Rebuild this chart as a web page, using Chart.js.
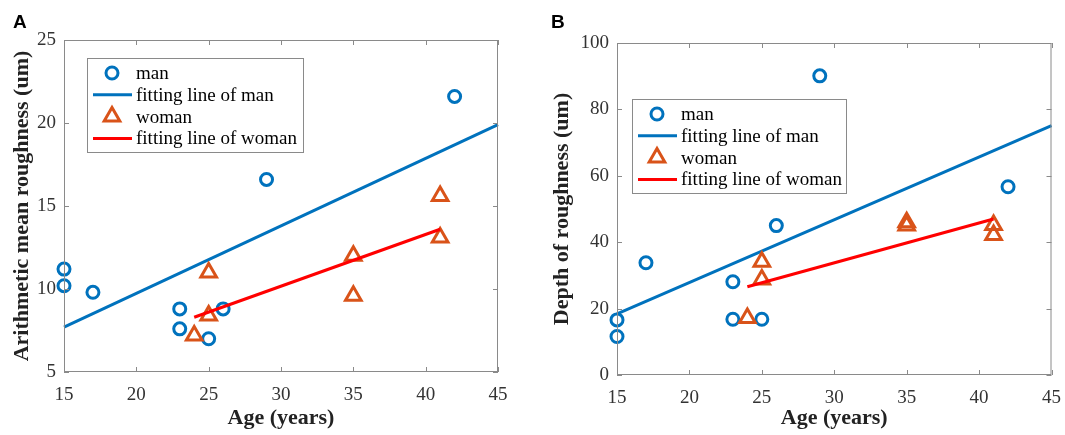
<!DOCTYPE html>
<html>
<head>
<meta charset="utf-8">
<script src="https://cdn.jsdelivr.net/npm/chart.js@4.4.0/dist/chart.umd.min.js"></script>
<style>
  html, body { margin: 0; padding: 0; background: #fff; }
  #wrap { position: relative; width: 1065px; height: 435px; }
  .panel { position: absolute; top: 0; height: 435px; }
  .tag { position: absolute; font: bold 19px 'Liberation Sans', Arial, sans-serif; color: #000; }
</style>
</head>
<body>
<div id="wrap">
  <div class="panel" style="left:0;width:530px"><canvas id="chartA" width="530" height="435"></canvas></div>
  <div class="panel" style="left:530px;width:535px"><canvas id="chartB" width="535" height="435"></canvas></div>
  <div class="tag" style="left:13px;top:11px">A</div>
  <div class="tag" style="left:551px;top:11px">B</div>
</div>
<script>
// --- data ---
const ageTicks = [15, 20, 25, 30, 35, 40, 45];

const menAge = [15, 15, 17, 23, 23, 25, 26, 29, 42];
const womenAge = [24, 25, 25, 35, 35, 41, 41];

// panel A: arithmetic mean roughness (um)
const raMen = [11.2, 10.2, 9.8, 8.8, 7.6, 7.0, 8.8, 16.6, 21.6];
const raWomen = [7.2, 8.4, 11.0, 12.0, 9.6, 15.6, 13.1];
const raFitManAge = [15, 45];
const raFitMan = [7.7, 19.9];
const raFitWomanAge = [24, 41];
const raFitWoman = [8.3, 13.6];

// panel B: depth of roughness (um)
const rzMen = [16.6, 11.6, 33.8, 28.1, 16.8, 16.8, 45.0, 90.1, 56.7];
const rzWomen = [17.2, 34.1, 28.8, 45.0, 46.0, 45.2, 42.2];
const rzFitManAge = [15, 45];
const rzFitMan = [18.4, 75.1];
const rzFitWomanAge = [24, 41];
const rzFitWoman = [26.6, 47.0];

const legendLabels = ["man", "fitting line of man", "woman", "fitting line of woman"];

const BLUE = "#0072BD";
const ORANGE = "#D95319";
const RED = "#FF0000";
const SERIF = "'Liberation Serif', 'Times New Roman', serif";

function pts(xs, ys) {
  return xs.map((x, i) => ({ x: x, y: ys[i] }));
}

function drawMarker(ctx, style, x, y, r, color) {
  ctx.save();
  ctx.strokeStyle = color;
  ctx.lineWidth = 3;
  ctx.beginPath();
  if (style === "circle") {
    ctx.arc(x, y, r, 0, Math.PI * 2);
  } else {
    for (let k = 0; k < 3; k++) {
      const a = -Math.PI / 2 + k * 2 * Math.PI / 3;
      const px = x + Math.cos(a) * r, py = y + Math.sin(a) * r;
      if (k === 0) ctx.moveTo(px, py); else ctx.lineTo(px, py);
    }
    ctx.closePath();
  }
  ctx.stroke();
  ctx.restore();
}

// axes box with inward ticks, like the matlab figure
const boxPlugin = {
  id: "boxAxes",
  afterDatasetsDraw(chart) {
    const { ctx, chartArea: a, scales } = chart;
    ctx.save();
    ctx.strokeStyle = "#8a8a8a";
    ctx.lineWidth = 1;
    ctx.strokeRect(a.left + 0.5, a.top + 0.5, a.right - a.left - 1, a.bottom - a.top - 1);
    ctx.beginPath();
    scales.x.ticks.forEach(t => {
      const px = Math.round(scales.x.getPixelForValue(t.value)) + 0.5;
      ctx.moveTo(px, a.bottom); ctx.lineTo(px, a.bottom - 5);
      ctx.moveTo(px, a.top); ctx.lineTo(px, a.top + 5);
    });
    scales.y.ticks.forEach(t => {
      const py = Math.round(scales.y.getPixelForValue(t.value)) + 0.5;
      ctx.moveTo(a.left, py); ctx.lineTo(a.left + 5, py);
      ctx.moveTo(a.right, py); ctx.lineTo(a.right - 5, py);
    });
    ctx.stroke();
    ctx.restore();
  },
  afterDraw(chart) {
    const o = chart.options.plugins.boxLegend;
    if (!o) return;
    const ctx = chart.ctx;
    ctx.save();
    ctx.fillStyle = "#fff";
    ctx.fillRect(o.x, o.y, o.w, o.h);
    ctx.strokeStyle = "#8a8a8a";
    ctx.lineWidth = 1;
    ctx.strokeRect(o.x + 0.5, o.y + 0.5, o.w, o.h);
    ctx.font = "19px " + SERIF;
    ctx.textBaseline = "middle";
    ctx.fillStyle = "#000";
    chart.data.datasets.forEach((ds, i) => {
      const cy = o.y + 15 + i * 21.8;
      if (ds.showLine) {
        ctx.strokeStyle = ds.borderColor;
        ctx.lineWidth = 3;
        ctx.beginPath();
        ctx.moveTo(o.x + 6, cy); ctx.lineTo(o.x + 45, cy);
        ctx.stroke();
      } else {
        drawMarker(ctx, ds.pointStyle, o.x + 25, cy, ds.pointRadius, ds.borderColor);
      }
      ctx.fillText(ds.label, o.x + 49, cy + 1);
    });
    ctx.restore();
  }
};

function makeChart(id, cfg) {
  const scatter = (label, data, style, color, r, order) => ({
    label, data, type: "scatter", showLine: false, pointStyle: style,
    pointRadius: r, pointHoverRadius: r, borderColor: color, backgroundColor: "transparent",
    pointBorderWidth: 3, borderWidth: 3, clip: false, order
  });
  const fit = (label, data, color, order) => ({
    label, data, type: "line", showLine: true, borderColor: color, borderWidth: 3,
    pointRadius: 0, fill: false, clip: false, order
  });

  return new Chart(document.getElementById(id), {
    type: "scatter",
    data: {
      datasets: [
        scatter(legendLabels[0], cfg.men, "circle", BLUE, 6, 4),
        fit(legendLabels[1], cfg.fitMan, BLUE, 3),
        scatter(legendLabels[2], cfg.women, "triangle", ORANGE, 9, 2),
        fit(legendLabels[3], cfg.fitWoman, RED, 1)
      ]
    },
    options: {
      responsive: false,
      animation: false,
      layout: { padding: cfg.padding },
      plugins: {
        legend: { display: false },
        tooltip: { enabled: false },
        boxLegend: cfg.legend
      },
      scales: {
        x: {
          type: "linear", min: 15, max: 45,
          afterBuildTicks: s => { s.ticks = ageTicks.map(v => ({ value: v })); },
          afterFit: s => { s.height = cfg.xAxisHeight; },
          grid: { display: false },
          border: { display: false },
          ticks: { color: "#333", padding: 4, font: { family: SERIF, size: 19 }, maxRotation: 0 },
          title: {
            display: true, text: "Age (years)", color: "#222",
            font: { family: SERIF, size: 22, weight: "bold" },
            padding: { top: 0, bottom: 3 }
          }
        },
        y: {
          type: "linear", min: cfg.yMin, max: cfg.yMax,
          afterBuildTicks: s => { s.ticks = cfg.yTicks.map(v => ({ value: v })); },
          afterFit: s => { s.width = cfg.yAxisWidth; },
          grid: { display: false },
          border: { display: false },
          ticks: { color: "#333", padding: 0, font: { family: SERIF, size: 19 } },
          title: {
            display: true, text: cfg.yTitle, color: "#222",
            font: { family: SERIF, size: 22, weight: "bold" },
            padding: { top: cfg.yTitlePad, bottom: 0 }
          }
        }
      }
    },
    plugins: [boxPlugin]
  });
}

makeChart("chartA", {
  men: pts(menAge, raMen),
  women: pts(womenAge, raWomen),
  fitMan: pts(raFitManAge, raFitMan),
  fitWoman: pts(raFitWomanAge, raFitWoman),
  yMin: 5, yMax: 25, yTicks: [5, 10, 15, 20, 25],
  yTitle: "Arithmetic mean roughness (um)",
  yAxisWidth: 64, xAxisHeight: 63, yTitlePad: 9,
  padding: { top: 40, right: 32, bottom: 0, left: 0 },
  legend: { x: 87, y: 58, w: 216, h: 94 }
});

makeChart("chartB", {
  men: pts(menAge, rzMen),
  women: pts(womenAge, rzWomen),
  fitMan: pts(rzFitManAge, rzFitMan),
  fitWoman: pts(rzFitWomanAge, rzFitWoman),
  yMin: 0, yMax: 100, yTicks: [0, 20, 40, 60, 80, 100],
  yTitle: "Depth of roughness (um)",
  yAxisWidth: 87, xAxisHeight: 60, yTitlePad: 19,
  padding: { top: 43, right: 13, bottom: 0, left: 0 },
  legend: { x: 102, y: 99, w: 214, h: 94 }
});
</script>
</body>
</html>
